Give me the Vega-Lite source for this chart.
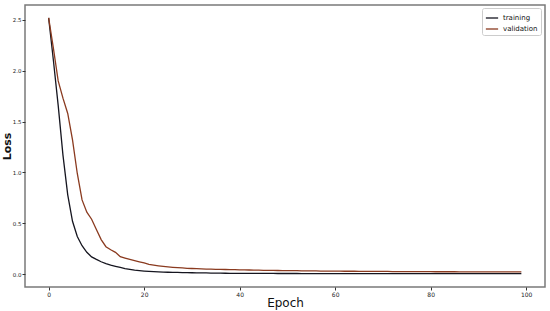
{
  "$schema": "https://vega.github.io/schema/vega-lite/v6.json",
  "width": 520,
  "height": 282,
  "autosize": "none",
  "padding": {"left": 25, "top": 5, "right": 5, "bottom": 24},
  "background": "white",
  "config": {
    "view": {"stroke": "#7a7a7a", "strokeWidth": 1.5},
    "font": "DejaVu Sans"
  },
  "data": {
    "values": [
      {"epoch":0,"training":2.52,"validation":2.52},
      {"epoch":1,"training":2.1,"validation":2.22},
      {"epoch":2,"training":1.66,"validation":1.9},
      {"epoch":3,"training":1.17,"validation":1.73},
      {"epoch":4,"training":0.78,"validation":1.58},
      {"epoch":5,"training":0.52,"validation":1.32},
      {"epoch":6,"training":0.37,"validation":0.99},
      {"epoch":7,"training":0.28,"validation":0.73},
      {"epoch":8,"training":0.215,"validation":0.61},
      {"epoch":9,"training":0.17,"validation":0.54},
      {"epoch":10,"training":0.145,"validation":0.44},
      {"epoch":11,"training":0.122,"validation":0.34},
      {"epoch":12,"training":0.104,"validation":0.27},
      {"epoch":13,"training":0.089,"validation":0.24},
      {"epoch":14,"training":0.077,"validation":0.215},
      {"epoch":15,"training":0.066,"validation":0.172},
      {"epoch":16,"training":0.055,"validation":0.158},
      {"epoch":17,"training":0.047,"validation":0.145},
      {"epoch":18,"training":0.04,"validation":0.133},
      {"epoch":19,"training":0.035,"validation":0.122},
      {"epoch":20,"training":0.031,"validation":0.11},
      {"epoch":21,"training":0.028,"validation":0.097},
      {"epoch":22,"training":0.025,"validation":0.089},
      {"epoch":23,"training":0.023,"validation":0.082},
      {"epoch":24,"training":0.021,"validation":0.076},
      {"epoch":25,"training":0.019,"validation":0.071},
      {"epoch":26,"training":0.018,"validation":0.067},
      {"epoch":27,"training":0.017,"validation":0.064},
      {"epoch":28,"training":0.016,"validation":0.061},
      {"epoch":29,"training":0.015,"validation":0.058},
      {"epoch":30,"training":0.014,"validation":0.056},
      {"epoch":31,"training":0.013,"validation":0.054},
      {"epoch":32,"training":0.0125,"validation":0.052},
      {"epoch":33,"training":0.012,"validation":0.05},
      {"epoch":34,"training":0.011,"validation":0.049},
      {"epoch":35,"training":0.0105,"validation":0.048},
      {"epoch":36,"training":0.0098,"validation":0.047},
      {"epoch":37,"training":0.0093,"validation":0.046},
      {"epoch":38,"training":0.0089,"validation":0.045},
      {"epoch":39,"training":0.0086,"validation":0.044},
      {"epoch":40,"training":0.0083,"validation":0.043},
      {"epoch":41,"training":0.008,"validation":0.042},
      {"epoch":42,"training":0.0078,"validation":0.041},
      {"epoch":43,"training":0.0076,"validation":0.04},
      {"epoch":44,"training":0.0074,"validation":0.039},
      {"epoch":45,"training":0.0072,"validation":0.038},
      {"epoch":46,"training":0.0071,"validation":0.037},
      {"epoch":47,"training":0.007,"validation":0.037},
      {"epoch":48,"training":0.0069,"validation":0.036},
      {"epoch":49,"training":0.0068,"validation":0.035},
      {"epoch":50,"training":0.0067,"validation":0.035},
      {"epoch":51,"training":0.0066,"validation":0.034},
      {"epoch":52,"training":0.0065,"validation":0.034},
      {"epoch":53,"training":0.0064,"validation":0.033},
      {"epoch":54,"training":0.0063,"validation":0.033},
      {"epoch":55,"training":0.0062,"validation":0.032},
      {"epoch":56,"training":0.0061,"validation":0.032},
      {"epoch":57,"training":0.006,"validation":0.031},
      {"epoch":58,"training":0.006,"validation":0.031},
      {"epoch":59,"training":0.0059,"validation":0.03},
      {"epoch":60,"training":0.0059,"validation":0.03},
      {"epoch":61,"training":0.0058,"validation":0.03},
      {"epoch":62,"training":0.0058,"validation":0.029},
      {"epoch":63,"training":0.0057,"validation":0.029},
      {"epoch":64,"training":0.0057,"validation":0.029},
      {"epoch":65,"training":0.0056,"validation":0.028},
      {"epoch":66,"training":0.0056,"validation":0.028},
      {"epoch":67,"training":0.0055,"validation":0.028},
      {"epoch":68,"training":0.0055,"validation":0.027},
      {"epoch":69,"training":0.0055,"validation":0.027},
      {"epoch":70,"training":0.0054,"validation":0.027},
      {"epoch":71,"training":0.0054,"validation":0.027},
      {"epoch":72,"training":0.0054,"validation":0.026},
      {"epoch":73,"training":0.0053,"validation":0.026},
      {"epoch":74,"training":0.0053,"validation":0.026},
      {"epoch":75,"training":0.0053,"validation":0.026},
      {"epoch":76,"training":0.0052,"validation":0.025},
      {"epoch":77,"training":0.0052,"validation":0.025},
      {"epoch":78,"training":0.0052,"validation":0.025},
      {"epoch":79,"training":0.0052,"validation":0.025},
      {"epoch":80,"training":0.0051,"validation":0.025},
      {"epoch":81,"training":0.0051,"validation":0.024},
      {"epoch":82,"training":0.0051,"validation":0.024},
      {"epoch":83,"training":0.0051,"validation":0.024},
      {"epoch":84,"training":0.005,"validation":0.024},
      {"epoch":85,"training":0.005,"validation":0.024},
      {"epoch":86,"training":0.005,"validation":0.023},
      {"epoch":87,"training":0.005,"validation":0.023},
      {"epoch":88,"training":0.005,"validation":0.023},
      {"epoch":89,"training":0.0049,"validation":0.023},
      {"epoch":90,"training":0.0049,"validation":0.023},
      {"epoch":91,"training":0.0049,"validation":0.023},
      {"epoch":92,"training":0.0049,"validation":0.022},
      {"epoch":93,"training":0.0049,"validation":0.022},
      {"epoch":94,"training":0.0048,"validation":0.022},
      {"epoch":95,"training":0.0048,"validation":0.022},
      {"epoch":96,"training":0.0048,"validation":0.022},
      {"epoch":97,"training":0.0048,"validation":0.022},
      {"epoch":98,"training":0.0048,"validation":0.022},
      {"epoch":99,"training":0.0047,"validation":0.022}
    ]
  },
  "transform": [
    {"fold": ["training", "validation"], "as": ["series", "loss"]}
  ],
  "mark": {"type": "line", "strokeWidth": 1.3, "interpolate": "linear"},
  "encoding": {
    "x": {
      "field": "epoch",
      "type": "quantitative",
      "scale": {"domain": [-4.95, 103.95], "nice": false, "zero": false},
      "axis": {
        "title": "Epoch",
        "titleFontSize": 12,
        "titleFontWeight": "normal",
        "titleColor": "#111",
        "titlePadding": 0,
        "values": [0, 20, 40, 60, 80, 100],
        "format": "d",
        "labelFontSize": 6,
        "labelColor": "#222",
        "labelPadding": 1,
        "tickSize": 3,
        "tickColor": "#333",
        "domain": false,
        "grid": false
      }
    },
    "y": {
      "field": "loss",
      "type": "quantitative",
      "scale": {"domain": [-0.126, 2.646], "nice": false, "zero": false},
      "axis": {
        "title": "Loss",
        "titleFontSize": 11,
        "titleFontWeight": "bold",
        "titleColor": "#111",
        "titlePadding": 0,
        "values": [0, 0.5, 1, 1.5, 2, 2.5],
        "format": ".1f",
        "labelFontSize": 5.5,
        "labelColor": "#222",
        "labelPadding": 1,
        "tickSize": 3,
        "tickColor": "#333",
        "domain": false,
        "grid": false
      }
    },
    "color": {
      "field": "series",
      "type": "nominal",
      "scale": {"domain": ["training", "validation"], "range": ["#15151f", "#8a3a1f"]},
      "legend": {
        "title": null,
        "orient": "none",
        "legendX": 457,
        "legendY": 3,
        "symbolType": "stroke",
        "symbolSize": 150,
        "symbolStrokeWidth": 1.3,
        "labelFontSize": 7,
        "labelColor": "#111",
        "fillColor": "white",
        "strokeColor": "#cccccc",
        "padding": 3,
        "cornerRadius": 2,
        "rowPadding": 1
      }
    }
  }
}
